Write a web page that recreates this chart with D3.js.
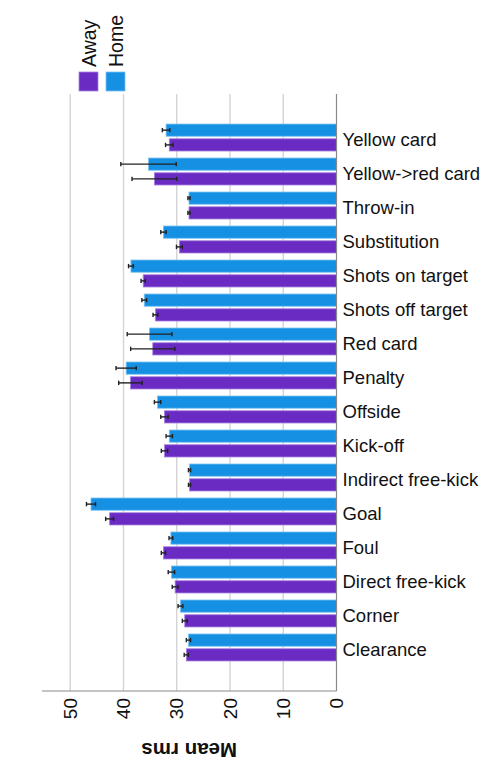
<!DOCTYPE html>
<html>
<head>
<meta charset="utf-8">
<script src="https://cdn.jsdelivr.net/npm/d3@7"></script>
<style>
  html, body { margin: 0; padding: 0; background: #fff; }
  svg { display: block; font-family: Arial, "Liberation Sans", sans-serif; }
</style>
</head>
<body>
<svg id="chart" width="496" height="772"></svg>
<script>
// Event types, top to bottom
const categories = [
  "Yellow card", "Yellow->red card", "Throw-in", "Substitution",
  "Shots on target", "Shots off target", "Red card", "Penalty",
  "Offside", "Kick-off", "Indirect free-kick", "Goal",
  "Foul", "Direct free-kick", "Corner", "Clearance"
];
// Mean rms per event type
const homeMean = [32.0, 35.3, 27.7, 32.5, 38.6, 36.1, 35.1, 39.5, 33.6, 31.4, 27.6, 46.1, 31.1, 31.0, 29.3, 27.8];
const awayMean = [31.4, 34.2, 27.7, 29.5, 36.3, 34.0, 34.5, 38.7, 32.3, 32.3, 27.6, 42.6, 32.5, 30.3, 28.5, 28.2];
// Half-width of the error bars
const homeErr = [0.7, 5.2, 0.2, 0.5, 0.45, 0.45, 4.2, 1.9, 0.6, 0.6, 0.2, 0.85, 0.35, 0.6, 0.45, 0.4];
const awayErr = [0.7, 4.2, 0.2, 0.55, 0.4, 0.45, 4.15, 2.2, 0.7, 0.6, 0.2, 0.75, 0.4, 0.55, 0.45, 0.4];
const groups = ["Home", "Away"];
const legendItems = ["Away", "Home"];
const xTicks = [0, 10, 20, 30, 40, 50];
const axisTitle = "Mean rms";

const colors = { Home: "#1690e3", Away: "#6a2bc3" };
const strokes = { Home: "#7cc3f2", Away: "#a784e0" };

const svg = d3.select("#chart");
const plot = { left: 42, right: 336.5, top: 94, bottom: 691 };

const x = d3.scaleLinear().domain([0, 55.3]).range([plot.right, plot.left]);
const y = d3.scaleBand().domain(categories).range([plot.top, plot.bottom])
  .paddingInner(0.206).paddingOuter(0.883);
const ySub = d3.scaleBand().domain(groups).range([0, y.bandwidth()]).paddingInner(0.17);

// Gridlines
svg.append("g").selectAll("line")
  .data(xTicks.filter(t => t > 0))
  .join("line")
  .attr("x1", d => x(d)).attr("x2", d => x(d))
  .attr("y1", plot.top).attr("y2", plot.bottom)
  .attr("stroke", "#d4d4d4").attr("stroke-width", 1.4);

// Rows of bars
const rows = categories.map((c, i) => ({
  cat: c,
  vals: [
    { g: "Home", v: homeMean[i], e: homeErr[i] },
    { g: "Away", v: awayMean[i], e: awayErr[i] }
  ]
}));

const rowG = svg.append("g").selectAll("g")
  .data(rows).join("g")
  .attr("transform", d => `translate(0,${y(d.cat)})`);

rowG.selectAll("rect")
  .data(d => d.vals).join("rect")
  .attr("x", d => x(d.v))
  .attr("y", d => ySub(d.g))
  .attr("width", d => x(0) - x(d.v))
  .attr("height", ySub.bandwidth())
  .attr("fill", d => colors[d.g])
  .attr("stroke", d => strokes[d.g])
  .attr("stroke-width", 0.8);

// Error bars
const eb = rowG.selectAll("g.err")
  .data(d => d.vals).join("g").attr("class", "err")
  .attr("transform", d => `translate(0,${ySub(d.g) + ySub.bandwidth() / 2})`);
eb.append("line")
  .attr("x1", d => x(d.v - d.e)).attr("x2", d => x(d.v + d.e))
  .attr("y1", 0).attr("y2", 0)
  .attr("stroke", "#222").attr("stroke-width", 1.4);
eb.selectAll("line.cap")
  .data(d => [d.v - d.e, d.v + d.e]).join("line").attr("class", "cap")
  .attr("x1", d => x(d)).attr("x2", d => x(d))
  .attr("y1", -2.2).attr("y2", 2.2)
  .attr("stroke", "#222").attr("stroke-width", 1.4);

// Axis lines
svg.append("line")
  .attr("x1", plot.left).attr("x2", plot.right)
  .attr("y1", plot.bottom).attr("y2", plot.bottom)
  .attr("stroke", "#8a8a8a").attr("stroke-width", 1.2);
svg.append("line")
  .attr("x1", plot.right).attr("x2", plot.right)
  .attr("y1", plot.top).attr("y2", plot.bottom)
  .attr("stroke", "#8a8a8a").attr("stroke-width", 1.2);

// Category labels
svg.append("g").selectAll("text")
  .data(categories).join("text")
  .attr("x", plot.right + 6)
  .attr("y", d => y(d) + y.bandwidth() / 2 + 2)
  .attr("dy", "0.35em")
  .attr("font-size", 18.5)
  .attr("fill", "#111")
  .text(d => d);

// Value tick labels (rotated)
svg.append("g").selectAll("text")
  .data(xTicks).join("text")
  .attr("transform", d => `translate(${x(d)},${plot.bottom + 7}) rotate(-90)`)
  .attr("text-anchor", "end")
  .attr("dy", "0.35em")
  .attr("font-size", 19)
  .attr("fill", "#111")
  .text(d => d);

// Axis title (upside down)
svg.append("text")
  .attr("transform", `translate(${(plot.left + plot.right) / 2},750) rotate(180)`)
  .attr("text-anchor", "middle")
  .attr("dy", "0.35em")
  .attr("font-size", 20.5)
  .attr("font-weight", "bold")
  .attr("fill", "#111")
  .text(axisTitle);

// Legend
const leg = svg.append("g").selectAll("g")
  .data(legendItems).join("g")
  .attr("transform", (d, i) => `translate(${79 + i * 27},72)`);
leg.append("rect")
  .attr("width", 19).attr("height", 19)
  .attr("fill", d => colors[d])
  .attr("stroke", d => strokes[d]).attr("stroke-width", 0.8);
leg.append("text")
  .attr("transform", "translate(10,-5) rotate(-90)")
  .attr("dy", "0.35em")
  .attr("font-size", 19.5)
  .attr("fill", "#111")
  .text(d => d);
</script>
</body>
</html>
